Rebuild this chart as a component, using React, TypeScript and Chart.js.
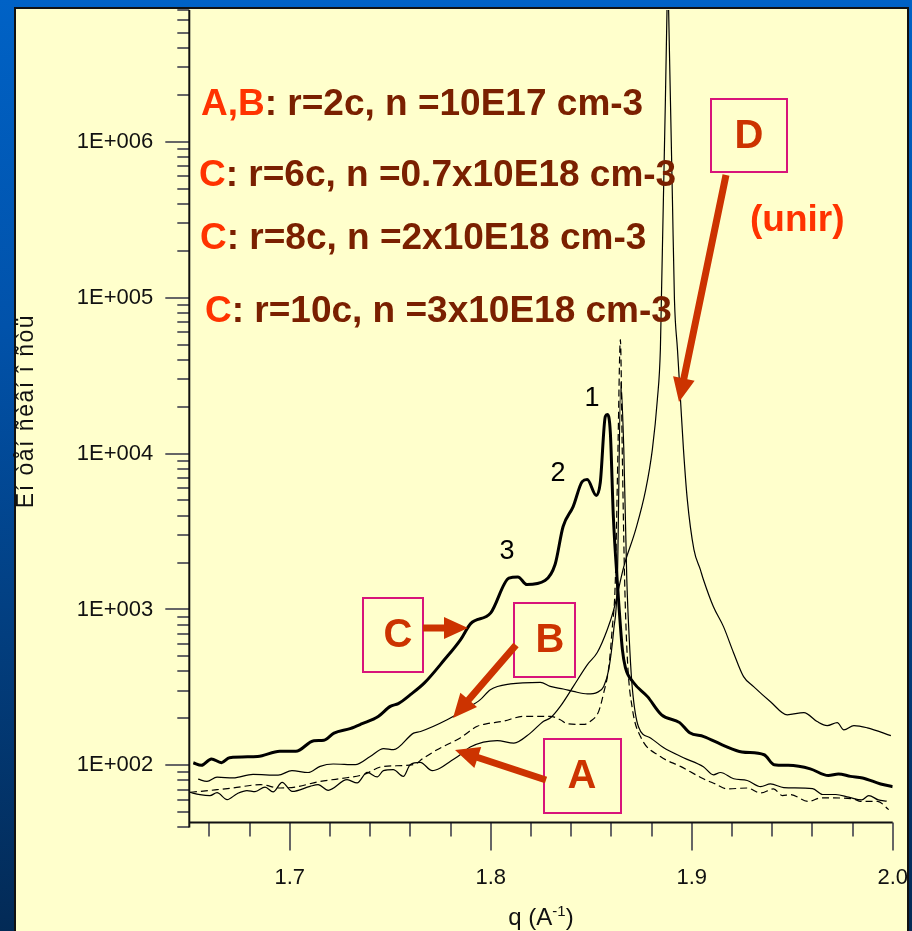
import React, { useEffect, useRef } from 'react';
import { Chart, registerables } from 'chart.js';

Chart.register(...registerables);

// ---- axis ticks ----
const X_TICK_VALUES = [1.7, 1.8, 1.9, 2.0];
const X_TICK_LABELS = ['1.7', '1.8', '1.9', '2.0'];
const X_MINOR_VALUES = [1.66, 1.68, 1.72, 1.74, 1.76, 1.78, 1.82, 1.84, 1.86, 1.88, 1.92, 1.94, 1.96, 1.98];
const Y_TICK_VALUES = [1e2, 1e3, 1e4, 1e5, 1e6];
const Y_TICK_LABELS = ['1E+002', '1E+003', '1E+004', '1E+005', '1E+006'];
const Y_MINOR_MULTIPLIERS = [2, 3, 4, 5, 6, 7, 8, 9];
const Y_MINOR_DECADES = [10, 100, 1000, 10000, 100000, 1000000];
const X_MIN = 1.65;
const X_MAX = 2.0;
const Y_MIN = 43;
const Y_MAX = 7e6;

// ---- curve C (thick, peaks 1, 2, 3) ----
const C_Q = [1.652, 1.656, 1.661, 1.666, 1.670, 1.684, 1.695, 1.703, 1.712, 1.717, 1.722, 1.730, 1.736, 1.744, 1.750, 1.754, 1.760, 1.767, 1.777, 1.785, 1.790, 1.800, 1.809, 1.8135, 1.818, 1.827, 1.832, 1.836, 1.841, 1.8455, 1.848, 1.8525, 1.8545, 1.857, 1.858, 1.8595, 1.861, 1.863, 1.8655, 1.867, 1.871, 1.878, 1.885, 1.894, 1.899, 1.906, 1.916, 1.925, 1.936, 1.941, 1.948, 1.959, 1.968, 1.973, 1.979, 1.985, 1.994, 2.000];
const C_I = [104, 100, 110, 104, 112, 114, 123, 123, 144, 145, 161, 172, 185, 206, 239, 249, 284, 338, 477, 641, 811, 951, 1588, 1618, 1445, 1532, 1941, 3404, 4571, 6607, 6808, 5382, 6516, 17300, 17800, 13640, 3945, 1486, 552, 424, 340, 276, 211, 188, 162, 153, 134, 122, 117, 101, 100, 95, 86, 88, 85, 83, 76, 73];

// ---- curve B (thin solid) ----
const B_Q = [1.6544, 1.6588, 1.6638, 1.6718, 1.6817, 1.6942, 1.7011, 1.7091, 1.7151, 1.7216, 1.7326, 1.7400, 1.7467, 1.7516, 1.7616, 1.7651, 1.7783, 1.7883, 1.7948, 1.7998, 1.8098, 1.8247, 1.8296, 1.8361, 1.8411, 1.8481, 1.8530, 1.8562, 1.8587, 1.8612, 1.8630, 1.8647, 1.8662, 1.8677, 1.8692, 1.8705, 1.8735, 1.8795, 1.8859, 1.8959, 1.9058, 1.9108, 1.9143, 1.9209, 1.9276, 1.9343, 1.9392, 1.9458, 1.9601, 1.9651, 1.9717, 1.9781, 1.9846, 1.9881, 1.9929, 1.9970];
const B_I = [81.5, 79, 84, 83, 87.5, 86.5, 92.5, 90, 98.6, 102, 101, 114, 128, 126, 161, 165, 196, 233, 264, 306, 333, 341, 321, 309, 298, 287, 294, 321, 411, 743, 1556, 28500, 10600, 1550, 550, 306, 177, 150, 130, 112, 98, 87, 90, 82, 80, 73, 76, 72, 71, 65, 65, 62.5, 60, 64, 60, 59];

// ---- curve A (dashed) ----
const A_Q = [1.6503, 1.6551, 1.6638, 1.6717, 1.6853, 1.6952, 1.7026, 1.7151, 1.7250, 1.7365, 1.7466, 1.7615, 1.7664, 1.7733, 1.7848, 1.7933, 1.7982, 1.8063, 1.8162, 1.8297, 1.8346, 1.8380, 1.8463, 1.8496, 1.8537, 1.8562, 1.8587, 1.8604, 1.8620, 1.8632, 1.8645, 1.8655, 1.8666, 1.8680, 1.8705, 1.8745, 1.8844, 1.8944, 1.9058, 1.9118, 1.9176, 1.9276, 1.9342, 1.9407, 1.9451, 1.9491, 1.9581, 1.9641, 1.9706, 1.9805, 1.9840, 1.9925, 1.9980];
const A_I = [67.2, 68, 69.8, 71.6, 75.2, 71.6, 72.6, 78.9, 82.2, 87.1, 98.5, 101, 111, 126, 150, 178, 185, 192, 206, 206, 196, 185, 183, 192, 222, 292, 422, 743, 1556, 9100, 53800, 9100, 1556, 478, 229, 153, 114, 98.5, 82, 76, 70.6, 71.6, 66.5, 70.6, 64, 64.9, 58.7, 61.8, 61.8, 60.9, 58.7, 58.7, 52];

// ---- curve D (unir, thin solid) ----
const D_Q = [1.6500, 1.6553, 1.6603, 1.6638, 1.6688, 1.6738, 1.6787, 1.6827, 1.6877, 1.6917, 1.6962, 1.7012, 1.7101, 1.7141, 1.7191, 1.7285, 1.7335, 1.7385, 1.7435, 1.7466, 1.7515, 1.7565, 1.7599, 1.7649, 1.7709, 1.7749, 1.7798, 1.7848, 1.7898, 1.8032, 1.8115, 1.8197, 1.8263, 1.8296, 1.8346, 1.8411, 1.8481, 1.8530, 1.8580, 1.8612, 1.8662, 1.8721, 1.8771, 1.8804, 1.8829, 1.8844, 1.8849, 1.8859, 1.8869, 1.8877, 1.8881, 1.8885, 1.8894, 1.8904, 1.8914, 1.8929, 1.8944, 1.8959, 1.8978, 1.9011, 1.9043, 1.9058, 1.9108, 1.9158, 1.9208, 1.9258, 1.9308, 1.9392, 1.9475, 1.9558, 1.9624, 1.9674, 1.9724, 1.9757, 1.9807, 1.9874, 1.9991];
const D_I = [67.2, 64.9, 64, 66.8, 60.3, 65.8, 68.9, 67.8, 72.6, 67.5, 77.8, 68, 73.3, 75.2, 69.2, 80.9, 77.1, 90.2, 84.3, 92.5, 93.8, 85, 101, 104.5, 92.5, 96.2, 106, 117, 131, 144, 139, 161, 192, 201, 239, 321, 443, 529, 743, 998, 1884, 3250, 5870, 10600, 22200, 46600, 97300, 426000, 1860000, 7060000, 15000000, 7060000, 1860000, 426000, 97300, 46600, 22200, 10600, 5060, 2420, 1800, 1556, 1040, 776, 528, 371, 320, 256, 211, 218, 191, 180, 188, 169, 180, 174, 155];

const toPoints = (qs: number[], vals: number[]) => qs.map((q, i) => ({ x: q, y: vals[i] }));

const FONT = '"Liberation Sans", Arial, sans-serif';
const ORANGE = '#FF3300';
const BROWN = '#7A2000';
const ARROW = '#CC3300';
const BOX = '#D8147A';

function drawArrow(ctx: CanvasRenderingContext2D, x0: number, y0: number, x1: number, y1: number) {
  const shaft = 7;
  const headLen = 24;
  const headHalf = 11;
  const ang = Math.atan2(y1 - y0, x1 - x0);
  const len = Math.hypot(x1 - x0, y1 - y0);
  ctx.save();
  ctx.translate(x0, y0);
  ctx.rotate(ang);
  ctx.fillStyle = ARROW;
  ctx.beginPath();
  ctx.moveTo(0, -shaft / 2);
  ctx.lineTo(len - headLen, -shaft / 2);
  ctx.lineTo(len - headLen, -headHalf);
  ctx.lineTo(len, 0);
  ctx.lineTo(len - headLen, headHalf);
  ctx.lineTo(len - headLen, shaft / 2);
  ctx.lineTo(0, shaft / 2);
  ctx.closePath();
  ctx.fill();
  ctx.restore();
}

function drawBox(ctx: CanvasRenderingContext2D, x: number, y: number, w: number, h: number, letter: string, lx: number, ly: number) {
  ctx.save();
  ctx.strokeStyle = BOX;
  ctx.lineWidth = 2;
  ctx.strokeRect(x, y, w, h);
  ctx.fillStyle = ARROW;
  ctx.font = `bold 40px ${FONT}`;
  ctx.textAlign = 'center';
  ctx.textBaseline = 'middle';
  ctx.fillText(letter, lx, ly);
  ctx.restore();
}

function drawTwoTone(ctx: CanvasRenderingContext2D, x: number, y: number, head: string, rest: string) {
  ctx.font = `bold 37px ${FONT}`;
  ctx.textAlign = 'left';
  ctx.textBaseline = 'alphabetic';
  ctx.fillStyle = ORANGE;
  ctx.fillText(head, x, y);
  const w = ctx.measureText(head).width;
  ctx.fillStyle = BROWN;
  ctx.fillText(rest, x + w, y);
}

const framePlugin = {
  id: 'frame',
  afterDraw(chart: any) {
    const { ctx, chartArea, scales } = chart;
    const xs = scales.x;
    const ys = scales.y;
    const left = chartArea.left;
    const bottom = chartArea.bottom;
    ctx.save();

    // y axis ticks
    ctx.strokeStyle = '#666';
    ctx.lineWidth = 2;
    const minorY: number[] = [];
    Y_MINOR_DECADES.forEach((d) => Y_MINOR_MULTIPLIERS.forEach((m) => {
      const v = d * m;
      if (v >= 40 && v <= Y_MAX) minorY.push(v);
    }));
    minorY.forEach((v) => {
      const p = Math.round(ys.getPixelForValue(v));
      ctx.beginPath();
      ctx.moveTo(left - 12, p);
      ctx.lineTo(left, p);
      ctx.stroke();
    });
    Y_TICK_VALUES.forEach((v) => {
      const p = Math.round(ys.getPixelForValue(v));
      ctx.beginPath();
      ctx.moveTo(left - 24, p);
      ctx.lineTo(left, p);
      ctx.stroke();
    });

    // x axis ticks
    X_MINOR_VALUES.forEach((v) => {
      const p = Math.round(xs.getPixelForValue(v));
      ctx.beginPath();
      ctx.moveTo(p, bottom);
      ctx.lineTo(p, bottom + 14);
      ctx.stroke();
    });
    X_TICK_VALUES.forEach((v) => {
      const p = Math.round(xs.getPixelForValue(v));
      ctx.beginPath();
      ctx.moveTo(p, bottom);
      ctx.lineTo(p, bottom + 28);
      ctx.stroke();
    });

    // axis lines
    ctx.strokeStyle = '#111';
    ctx.lineWidth = 2;
    ctx.beginPath();
    ctx.moveTo(left, chartArea.top);
    ctx.lineTo(left, ys.getPixelForValue(40));
    ctx.stroke();
    ctx.beginPath();
    ctx.moveTo(left, bottom);
    ctx.lineTo(xs.getPixelForValue(X_MAX), bottom);
    ctx.stroke();

    // axis titles
    ctx.fillStyle = '#111';
    ctx.save();
    ctx.font = `23px ${FONT}`;
    (ctx as any).letterSpacing = '1.5px';
    ctx.translate(27, 411);
    ctx.rotate(-Math.PI / 2);
    ctx.textAlign = 'center';
    ctx.textBaseline = 'middle';
    ctx.fillText('Eí òåí ñèâí î ñòü', 0, 0);
    ctx.restore();

    const main = 'q (A';
    const sup = '-1';
    const close = ')';
    ctx.font = `24px ${FONT}`;
    const w1 = ctx.measureText(main).width;
    const w3 = ctx.measureText(close).width;
    ctx.font = `15px ${FONT}`;
    const w2 = ctx.measureText(sup).width;
    let tx = (left + chartArea.right) / 2 - (w1 + w2 + w3) / 2;
    const ty = 925;
    ctx.textAlign = 'left';
    ctx.textBaseline = 'alphabetic';
    ctx.font = `24px ${FONT}`;
    ctx.fillText(main, tx, ty);
    tx += w1;
    ctx.font = `15px ${FONT}`;
    ctx.fillText(sup, tx, ty - 9);
    tx += w2;
    ctx.font = `24px ${FONT}`;
    ctx.fillText(close, tx, ty);

    // peak numbers on curve C
    ctx.font = `27px ${FONT}`;
    ctx.textAlign = 'center';
    ctx.textBaseline = 'middle';
    ctx.fillStyle = '#000';
    ctx.fillText('1', 592, 399);
    ctx.fillText('2', 558, 474);
    ctx.fillText('3', 507, 552);

    // parameter notes
    drawTwoTone(ctx, 201, 115, 'A,B', ': r=2c, n =10E17 cm-3');
    drawTwoTone(ctx, 199, 186, 'C', ': r=6c, n =0.7x10E18 cm-3');
    drawTwoTone(ctx, 200, 249, 'C', ': r=8c, n =2x10E18 cm-3');
    drawTwoTone(ctx, 205, 322, 'C', ': r=10c, n =3x10E18 cm-3');
    ctx.font = `bold 37px ${FONT}`;
    ctx.fillStyle = ORANGE;
    ctx.textAlign = 'left';
    ctx.textBaseline = 'alphabetic';
    ctx.fillText('(unir)', 750, 231);

    // callout boxes and arrows
    drawBox(ctx, 711, 99, 76, 73, 'D', 749, 137);
    drawBox(ctx, 363, 598, 60, 74, 'C', 398, 636);
    drawBox(ctx, 514, 603, 61, 74, 'B', 550, 641);
    drawBox(ctx, 544, 739, 77, 74, 'A', 582, 777);
    drawArrow(ctx, 726, 175, 679, 402);
    drawArrow(ctx, 423, 628, 468, 628);
    drawArrow(ctx, 516, 645, 453, 718);
    drawArrow(ctx, 546, 780, 455, 750);

    ctx.restore();
  },
};

export default function App() {
  const ref = useRef<HTMLCanvasElement | null>(null);

  useEffect(() => {
    if (!ref.current) return;
    const chart = new Chart(ref.current, {
      type: 'line',
      data: {
        datasets: [
          { label: 'D', data: toPoints(D_Q, D_I), borderColor: '#000', borderWidth: 1.2, pointRadius: 0, cubicInterpolationMode: 'monotone' },
          { label: 'A', data: toPoints(A_Q, A_I), borderColor: '#000', borderWidth: 1.2, borderDash: [7, 4], pointRadius: 0, cubicInterpolationMode: 'monotone' },
          { label: 'B', data: toPoints(B_Q, B_I), borderColor: '#000', borderWidth: 1.2, pointRadius: 0, cubicInterpolationMode: 'monotone' },
          { label: 'C', data: toPoints(C_Q, C_I), borderColor: '#000', borderWidth: 3, pointRadius: 0, cubicInterpolationMode: 'monotone' },
        ],
      },
      options: {
        animation: false,
        responsive: false,
        maintainAspectRatio: false,
        events: [],
        layout: { padding: { left: 0, top: 10, right: 19.3, bottom: 0 } },
        plugins: { legend: { display: false }, tooltip: { enabled: false }, title: { display: false } },
        scales: {
          x: {
            type: 'linear',
            min: X_MIN,
            max: X_MAX,
            grid: { display: false, drawTicks: false },
            border: { display: false },
            afterBuildTicks: (s: any) => { s.ticks = X_TICK_VALUES.map((v) => ({ value: v })); },
            afterFit: (s: any) => { s.height = 108.5; s.paddingLeft = 0; s.paddingRight = 0; },
            ticks: {
              autoSkip: false,
              maxRotation: 0,
              padding: 42,
              color: '#111',
              font: { family: FONT, size: 22 },
              callback: (v: any) => X_TICK_LABELS[X_TICK_VALUES.findIndex((t) => Math.abs(t - v) < 1e-9)] ?? '',
            },
          },
          y: {
            type: 'logarithmic',
            min: Y_MIN,
            max: Y_MAX,
            grid: { display: false, drawTicks: false },
            border: { display: false },
            afterBuildTicks: (s: any) => { s.ticks = Y_TICK_VALUES.map((v) => ({ value: v })); },
            afterFit: (s: any) => { s.width = 189.3; s.paddingTop = 0; s.paddingBottom = 0; },
            ticks: {
              autoSkip: false,
              padding: 36,
              color: '#111',
              font: { family: FONT, size: 22 },
              callback: (v: any) => Y_TICK_LABELS[Y_TICK_VALUES.findIndex((t) => Math.abs(t - v) / t < 1e-9)] ?? '',
            },
          },
        },
      },
      plugins: [framePlugin],
    } as any);
    return () => chart.destroy();
  }, []);

  return (
    <div
      style={{
        position: 'fixed',
        left: 0,
        top: 0,
        width: 912,
        height: 931,
        overflow: 'hidden',
        background: 'linear-gradient(180deg, #0062C6 0%, #0152AA 35%, #024083 65%, #032A56 100%)',
      }}
    >
      <div
        style={{
          position: 'absolute',
          left: 14,
          top: 7,
          width: 895,
          height: 940,
          background: '#FFFFCC',
          border: '2px solid #111',
          boxSizing: 'border-box',
        }}
      />
      <canvas ref={ref} width={912} height={931} style={{ position: 'absolute', left: 0, top: 0, width: 912, height: 931 }} />
    </div>
  );
}
